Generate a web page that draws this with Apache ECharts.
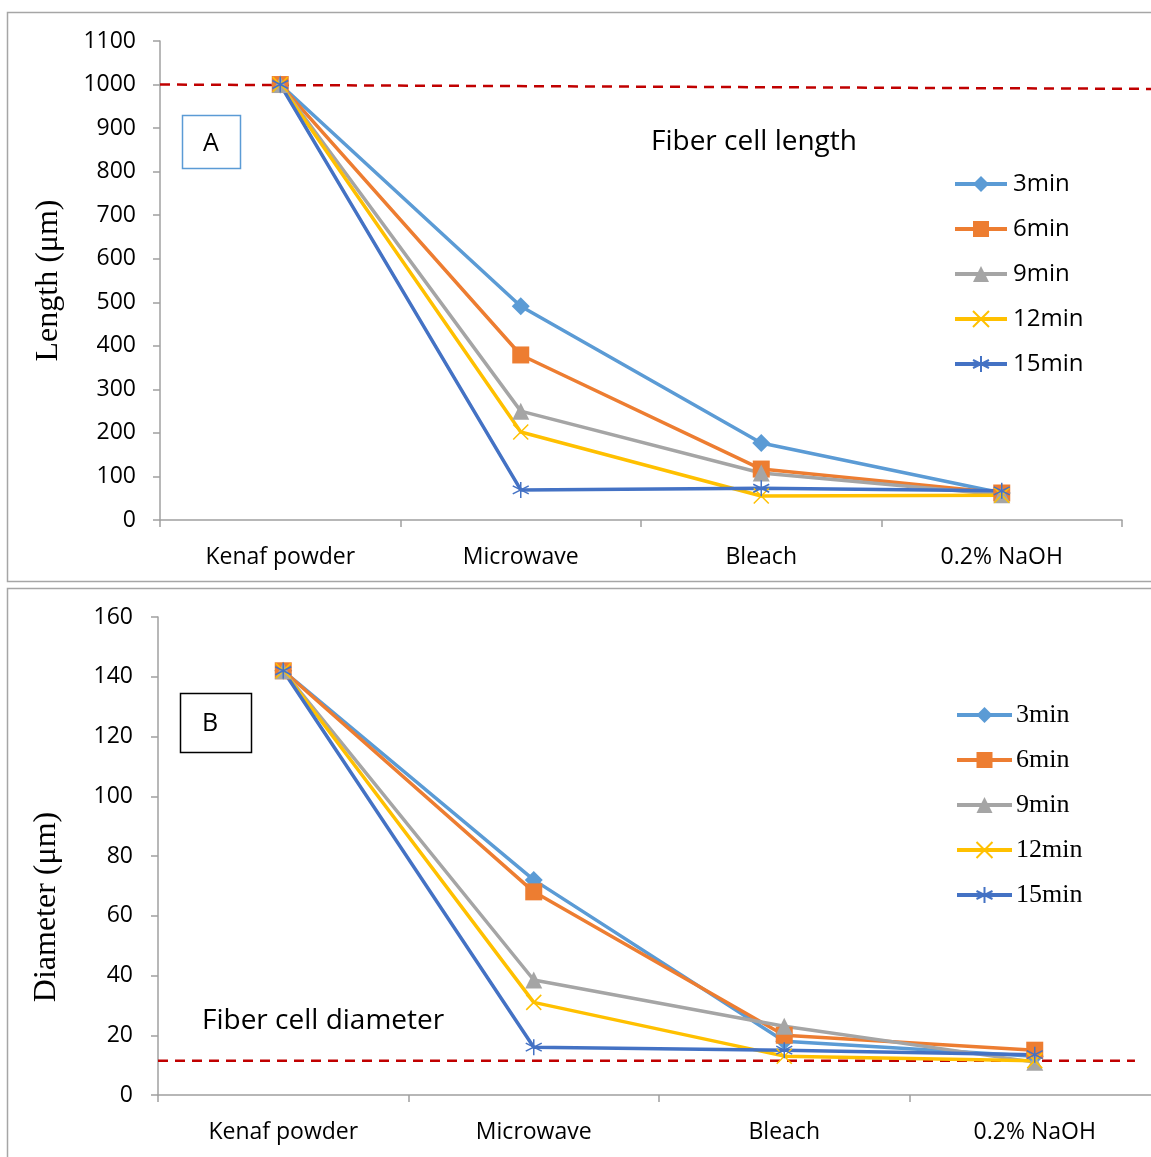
<!DOCTYPE html>
<html>
<head>
<meta charset="utf-8">
<script src="https://cdn.jsdelivr.net/npm/echarts@6/dist/echarts.min.js"></script>
<style>
  html, body { margin: 0; padding: 0; background: #fff; }
  #chart { width: 1151px; height: 1157px; }
</style>
</head>
<body>
<div id="chart"></div>
<script>
// categories shared by both panels
const stages = ['Kenaf powder', 'Microwave', 'Bleach', '0.2% NaOH']
const seriesNames = ['3min', '6min', '9min', '12min', '15min']

// A: fiber cell length (µm)
const len3 = [1000, 491, 177, 62]
const len6 = [1000, 379, 117, 62]
const len9 = [1000, 250, 108, 58]
const len12 = [1000, 202, 55, 57]
const len15 = [1000, 69, 73, 67]
// B: fiber cell diameter (µm)
const dia3 = [142, 72, 18, 13]
const dia6 = [142, 68, 20, 15]
const dia9 = [142, 38.5, 23, 11]
const dia12 = [142, 31, 13, 11.5]
const dia15 = [142, 16, 15, 13.5]

// red dashed reference lines [x (category units), y]
const lenRef = [[0, 1000], [4.12, 990]]
const diaRef = [[0, 11.5], [3.9, 11.5]]

const colors = ['#5B9BD5', '#ED7D31', '#A5A5A5', '#FFC000', '#4472C4']
const xMark = 'path://M0,0L10,10M10,0L0,10'
const starMark = 'path://M5,0L5,10M0.8,2.5L9.2,7.5M9.2,2.5L0.8,7.5'
const marks = [
  { symbol: 'diamond', size: 18, stroke: false },
  { symbol: 'rect', size: 17, stroke: false },
  { symbol: 'triangle', size: 17, stroke: false },
  { symbol: xMark, size: 15, stroke: true },
  { symbol: starMark, size: 16, stroke: true }
]

const sansFont = '"Open Sans", sans-serif'
const serifFont = '"Liberation Serif", "DejaVu Serif", serif'
const axisGray = '#A0A0A0'

function makeSeries(values, idx, xi, yi) {
  const m = marks[idx]
  return {
    name: seriesNames[idx],
    type: 'line',
    xAxisIndex: xi,
    yAxisIndex: yi,
    data: values,
    symbol: m.symbol,
    symbolSize: m.size,
    showAllSymbol: true,
    animation: false,
    lineStyle: { color: colors[idx], width: 3.5 },
    itemStyle: m.stroke
      ? { color: 'rgba(0,0,0,0)', borderColor: colors[idx], borderWidth: 1.5 }
      : { color: colors[idx], borderWidth: 0 }
  }
}

function refLine(data, xi, yi) {
  return {
    type: 'line',
    xAxisIndex: xi,
    yAxisIndex: yi,
    data: data,
    symbol: 'none',
    clip: false,
    silent: true,
    animation: false,
    lineStyle: { color: '#C00000', width: 2.5, type: [10, 7] },
    z: 1
  }
}

function catAxis(gi) {
  return {
    type: 'category',
    gridIndex: gi,
    data: stages,
    boundaryGap: true,
    axisLine: { lineStyle: { color: axisGray, width: 1.5 } },
    axisTick: { show: true, length: 7, lineStyle: { color: axisGray, width: 1.5 } },
    axisLabel: { color: '#000', fontFamily: sansFont, fontSize: 23, margin: 26 },
    splitLine: { show: false }
  }
}

function hiddenX(gi, max) {
  return { type: 'value', gridIndex: gi, min: 0, max: max, show: false }
}

function valAxis(gi, max, interval, name, gap, margin, namePad) {
  return {
    type: 'value',
    gridIndex: gi,
    min: 0,
    max: max,
    interval: interval,
    name: name,
    nameLocation: 'middle',
    nameGap: gap,
    nameTextStyle: { color: '#000', fontFamily: serifFont, fontSize: 32, padding: namePad },
    axisLine: { show: true, lineStyle: { color: axisGray, width: 1.5 } },
    axisTick: { show: true, length: 7, lineStyle: { color: axisGray, width: 1.5 } },
    axisLabel: { color: '#000', fontFamily: sansFont, fontSize: 23, margin: margin, formatter: v => String(v) },
    splitLine: { show: false }
  }
}

const lenData = [len3, len6, len9, len12, len15]
const diaData = [dia3, dia6, dia9, dia12, dia15]

const chart = echarts.init(document.getElementById('chart'))
chart.setOption({
  backgroundColor: '#fff',
  grid: [
    { left: 160, top: 41, width: 962, height: 479, outerBoundsMode: 'none' },
    { left: 158, top: 617, width: 1002, height: 478, outerBoundsMode: 'none' },
    // wider overlay grid for the top reference line, which runs past the plot
    { left: 160, top: 41, width: 991, height: 479, outerBoundsMode: 'none', show: false }
  ],
  xAxis: [catAxis(0), hiddenX(2, 4.12), catAxis(1), hiddenX(1, 4)],
  yAxis: [
    valAxis(0, 1100, 100, 'Length (μm)', 95, 24, 0),
    valAxis(1, 160, 20, 'Diameter (μm)', 95, 25, [0, 102, 0, 0]),
    { type: 'value', gridIndex: 2, min: 0, max: 1100, show: false }
  ],
  legend: [
    {
      data: seriesNames,
      orient: 'vertical',
      left: 953,
      top: 172,
      padding: 0,
      itemWidth: 52,
      itemHeight: 20,
      itemGap: 21,
      lineStyle: { width: 4 },
      textStyle: { fontFamily: sansFont, fontSize: 24, color: '#000', padding: [0, 0, 0, 1] }
    },
    {
      data: seriesNames,
      orient: 'vertical',
      left: 955,
      top: 702,
      padding: 0,
      itemWidth: 55,
      itemHeight: 20,
      itemGap: 19,
      lineStyle: { width: 4 },
      textStyle: { fontFamily: serifFont, fontSize: 26, color: '#000', padding: [0, 0, 0, -1] }
    }
  ],
  title: [
    {
      text: 'Fiber cell length',
      left: 651,
      top: 128,
      padding: 0,
      textStyle: { fontFamily: sansFont, fontSize: 28, fontWeight: 'normal', color: '#000' }
    },
    {
      text: 'Fiber cell diameter',
      left: 202,
      top: 1007,
      padding: 0,
      textStyle: { fontFamily: sansFont, fontSize: 28, fontWeight: 'normal', color: '#000' }
    }
  ],
  graphic: [
    { type: 'rect', shape: { x: 7.5, y: 12.5, width: 1150, height: 569 }, style: { fill: 'none', stroke: '#A6A6A6', lineWidth: 1.5 }, z: -1 },
    { type: 'rect', shape: { x: 7.5, y: 588.5, width: 1150, height: 575 }, style: { fill: 'none', stroke: '#A6A6A6', lineWidth: 1.5 }, z: -1 },
    { type: 'rect', shape: { x: 182.5, y: 115.5, width: 58, height: 53 }, style: { fill: '#fff', stroke: '#5B9BD5', lineWidth: 1.5 } },
    { type: 'text', x: 211, y: 144, style: { text: 'A', font: '25px "Open Sans", sans-serif', fill: '#000', align: 'center', verticalAlign: 'middle' } },
    { type: 'rect', shape: { x: 180.5, y: 693.5, width: 71, height: 59 }, style: { fill: '#fff', stroke: '#000', lineWidth: 1.5 } },
    { type: 'text', x: 210, y: 724, style: { text: 'B', font: '25px "Open Sans", sans-serif', fill: '#000', align: 'center', verticalAlign: 'middle' } }
  ],
  series: [
    refLine(lenRef, 1, 2),
    ...lenData.map((d, i) => makeSeries(d, i, 0, 0)),
    refLine(diaRef, 3, 1),
    ...diaData.map((d, i) => makeSeries(d, i, 2, 1))
  ]
})
</script>
</body>
</html>
